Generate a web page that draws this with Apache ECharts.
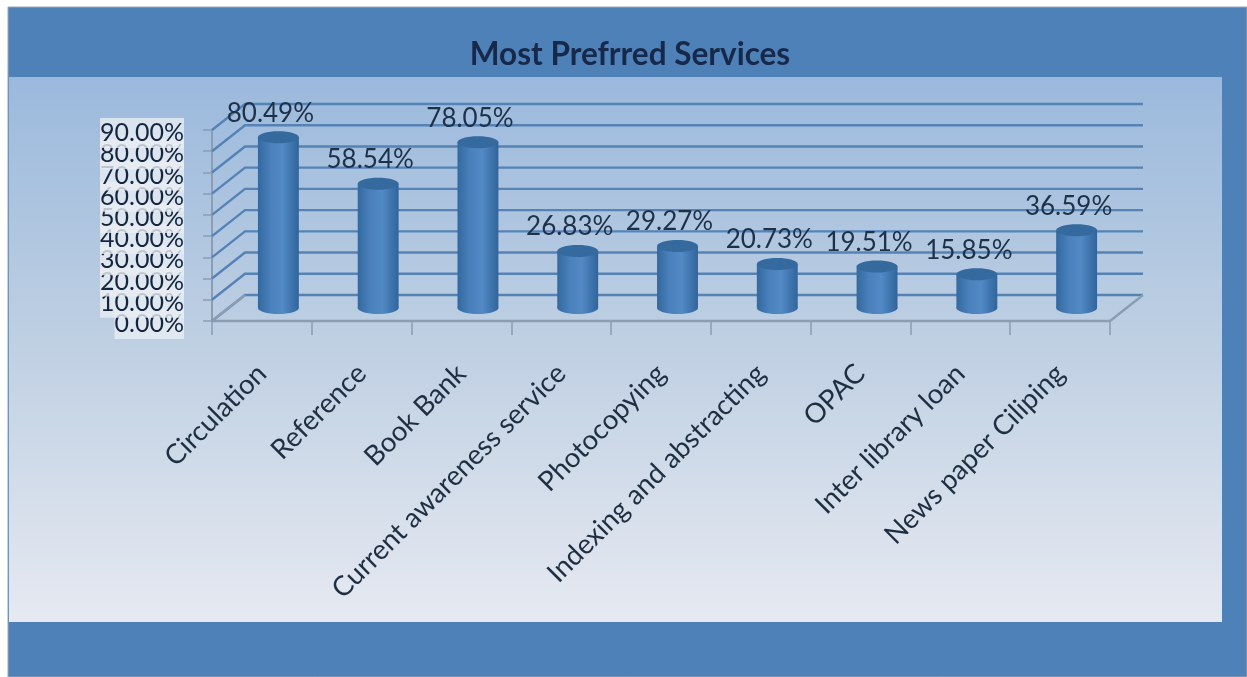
<!DOCTYPE html>
<html>
<head>
<meta charset="utf-8">
<title>Most Prefrred Services</title>
<style>
  html, body { margin: 0; padding: 0; background: #fff; }
  #chart { width: 1247px; height: 677px; }
</style>
<script src="https://cdn.jsdelivr.net/npm/echarts@6/dist/echarts.min.js"></script>
</head>
<body>
<div id="chart"></div>
<script>
  var titleText = 'Most Prefrred Services';
  var categories = ['Circulation', 'Reference', 'Book Bank', 'Current awareness service', 'Photocopying',
    'Indexing and abstracting', 'OPAC', 'Inter library loan', 'News paper Ciliping'];
  var values = [80.49, 58.54, 78.05, 26.83, 29.27, 20.73, 19.51, 15.85, 36.59];
  var wallTicks = [0, 10, 20, 30, 40, 50, 60, 70, 80, 90];

  // oblique offset of the fake 3d box, front plane to back wall
  var depthX = 33, depthY = -26;
  var labelFont = 'Lato, "Open Sans", sans-serif';

  var chart = echarts.init(document.getElementById('chart'), null, { renderer: 'canvas' });

  function renderWall(params, api) {
    var v = api.value(0);
    var box = params.coordSys;
    var y = api.coord([0, v])[1];
    var left = box.x, right = box.x + box.width;
    var children = [{
      type: 'polyline',
      shape: { points: [[left, y], [left + depthX, y + depthY], [right + depthX, y + depthY]] },
      style: { stroke: '#5583b6', lineWidth: 2.4, fill: null }
    }];
    if (v === 0) {
      // floor edges are grey, not blue
      children.push({
        type: 'polyline',
        shape: { points: [[left, y], [left + depthX, y + depthY]] },
        style: { stroke: '#8b9db3', lineWidth: 2.4, fill: null }
      });
      children.push({
        type: 'polyline',
        shape: { points: [[right, y], [right + depthX, y + depthY]] },
        style: { stroke: '#8b9db3', lineWidth: 2.4, fill: null }
      });
    }
    // tick text lives here: the boxes must overlap, and axisLabel drops overlapping ones
    children.push({
      type: 'text',
      style: {
        x: left - 28,
        y: y + 3,
        text: v.toFixed(2) + '%',
        fill: '#14263f',
        font: '25px ' + labelFont,
        lineHeight: 30,
        textAlign: 'right',
        textVerticalAlign: 'middle',
        backgroundColor: 'rgba(232,237,243,0.8)'
      }
    });
    return { type: 'group', children: children };
  }

  function renderCylinder(params, api) {
    var top = api.coord([api.value(0), api.value(1)]);
    var base = api.coord([api.value(0), 0]);
    var rx = api.size([1, 0])[0] * 0.205;
    var ry = 6;
    var cx = top[0] + depthX / 2;
    var topY = top[1] + depthY / 2;
    var baseY = base[1] + depthY / 2;
    var bodyFill = new echarts.graphic.LinearGradient(0, 0, 1, 0, [
      { offset: 0, color: '#33699f' },
      { offset: 0.3, color: '#4a80bb' },
      { offset: 0.6, color: '#528ac5' },
      { offset: 1, color: '#30649c' }
    ]);
    return {
      type: 'group',
      children: [
        { type: 'ellipse', shape: { cx: cx, cy: baseY, rx: rx, ry: ry }, style: { fill: bodyFill } },
        { type: 'rect', shape: { x: cx - rx, y: topY, width: rx * 2, height: baseY - topY }, style: { fill: bodyFill } },
        { type: 'ellipse', shape: { cx: cx, cy: topY, rx: rx, ry: ry }, style: { fill: '#356a9f' } },
        {
          type: 'text',
          z2: 10,
          style: {
            x: cx - 8, y: topY - 24,
            text: api.value(1).toFixed(2) + '%',
            fill: '#1d3149',
            font: '26px ' + labelFont,
            textAlign: 'center',
            textVerticalAlign: 'middle'
          }
        }
      ]
    };
  }

  var backdrop = [
    {
      type: 'rect', z: -10,
      shape: { x: 8, y: 7, width: 1239, height: 670 },
      style: { fill: '#4f81b9', stroke: '#9aa7b5', lineWidth: 1 }
    },
    {
      type: 'rect', z: -9,
      shape: { x: 9, y: 77, width: 1213, height: 545 },
      style: {
        fill: new echarts.graphic.LinearGradient(0, 0, 0, 1, [
          { offset: 0, color: '#9bb9dd' },
          { offset: 0.45, color: '#bccee2' },
          { offset: 1, color: '#e6e9f1' }
        ])
      }
    }
  ];

  chart.setOption({
    animation: false,
    backgroundColor: '#fff',
    graphic: backdrop,
    title: {
      text: titleText,
      left: 625,
      top: 34,
      textAlign: 'center',
      textStyle: { fontFamily: labelFont, fontSize: 31.5, fontWeight: 'bold', color: '#17294a' }
    },
    grid: { left: 212, right: 137, top: 130, bottom: 356 },
    xAxis: {
      type: 'category',
      data: categories,
      axisLine: { lineStyle: { color: '#8b9db3', width: 2.4 } },
      axisTick: { show: true, length: 14, lineStyle: { color: '#8b9db3', width: 1.5 } },
      axisLabel: {
        interval: 0,
        rotate: 45,
        margin: 48,
        color: '#1f2f42',
        fontFamily: labelFont,
        fontSize: 27.5
      }
    },
    yAxis: {
      type: 'value',
      min: 0,
      max: 90,
      interval: 10,
      splitLine: { show: false },
      axisLine: { show: true, lineStyle: { color: '#8b9db3', width: 2 } },
      axisTick: { show: true, length: 9, lineStyle: { color: '#8b9db3', width: 1.5 } },
      axisLabel: { show: false }
    },
    series: [
      {
        type: 'custom',
        name: 'wall',
        z: 1,
        silent: true,
        clip: false,
        renderItem: renderWall,
        encode: { y: 0 },
        data: wallTicks.map(function (v) { return [v]; })
      },
      {
        type: 'custom',
        name: 'Most Prefrred Services',
        z: 3,
        clip: false,
        renderItem: renderCylinder,
        encode: { x: 0, y: 1 },
        data: values.map(function (v, i) { return [i, v]; })
      }
    ]
  });
</script>
</body>
</html>
